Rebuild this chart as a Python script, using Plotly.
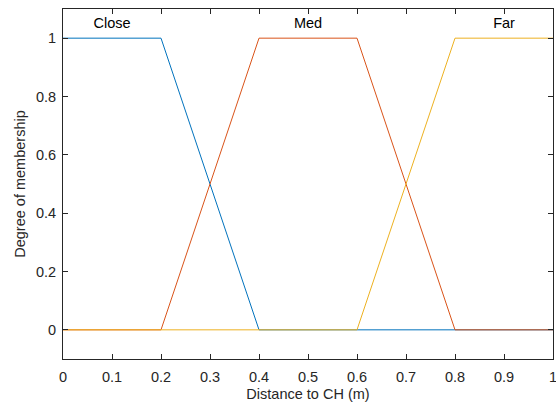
import plotly.graph_objects as go

x_close = [0, 0.2, 0.4, 1]
y_close = [1, 1, 0, 0]
x_med = [0, 0.2, 0.4, 0.6, 0.8, 1]
y_med = [0, 0, 1, 1, 0, 0]
x_far = [0, 0.6, 0.8, 1]
y_far = [0, 0, 1, 1]
labels = ["Close", "Med", "Far"]
label_x = [0.1, 0.5, 0.9]
label_y = [1.048, 1.048, 1.048]
colors = ["#0072BD", "#D95319", "#EDB120"]
x_ticks = [0, 0.1, 0.2, 0.3, 0.4, 0.5, 0.6, 0.7, 0.8, 0.9, 1]
x_ticktext = ["0", "0.1", "0.2", "0.3", "0.4", "0.5", "0.6", "0.7", "0.8", "0.9", "1"]
y_ticks = [0, 0.2, 0.4, 0.6, 0.8, 1]
y_ticktext = ["0", "0.2", "0.4", "0.6", "0.8", "1"]

FONT = "Liberation Sans, Arial"
FS = 14.5

fig = go.Figure()
for xs, ys, c, n in [(x_close, y_close, colors[0], labels[0]),
                     (x_med, y_med, colors[1], labels[1]),
                     (x_far, y_far, colors[2], labels[2])]:
    fig.add_trace(go.Scatter(x=xs, y=ys, mode="lines", name=n,
                             line=dict(color=c, width=1)))
fig.add_trace(go.Scatter(x=label_x, y=label_y, mode="text", text=labels,
                         textfont=dict(family=FONT, size=FS, color="#000000"),
                         showlegend=False, cliponaxis=False))

axis_common = dict(showgrid=False, zeroline=False, showline=True, linecolor="#262626",
                   linewidth=1, ticks="inside", ticklen=5, tickcolor="#262626",
                   mirror="ticks", ticklabeloverflow="allow", automargin=False,
                   tickfont=dict(family=FONT, size=FS, color="#262626"))
fig.update_layout(
    width=556, height=408,
    margin=dict(l=63, r=3, t=9, b=49),
    paper_bgcolor="white", plot_bgcolor="white",
    showlegend=False,
    xaxis=dict(range=[0, 1], tickvals=x_ticks, ticktext=x_ticktext,
               ticklabelstandoff=5,
               title=dict(text="Distance to CH (m)", standoff=4,
                          font=dict(family=FONT, size=FS, color="#262626")),
               **axis_common),
    yaxis=dict(range=[-0.1, 1.1], tickvals=y_ticks, ticktext=y_ticktext,
               ticklabelstandoff=3,
               title=dict(text="Degree of membership", standoff=6,
                          font=dict(family=FONT, size=FS, color="#262626")),
               **axis_common),
)
fig.write_html("out.html")
